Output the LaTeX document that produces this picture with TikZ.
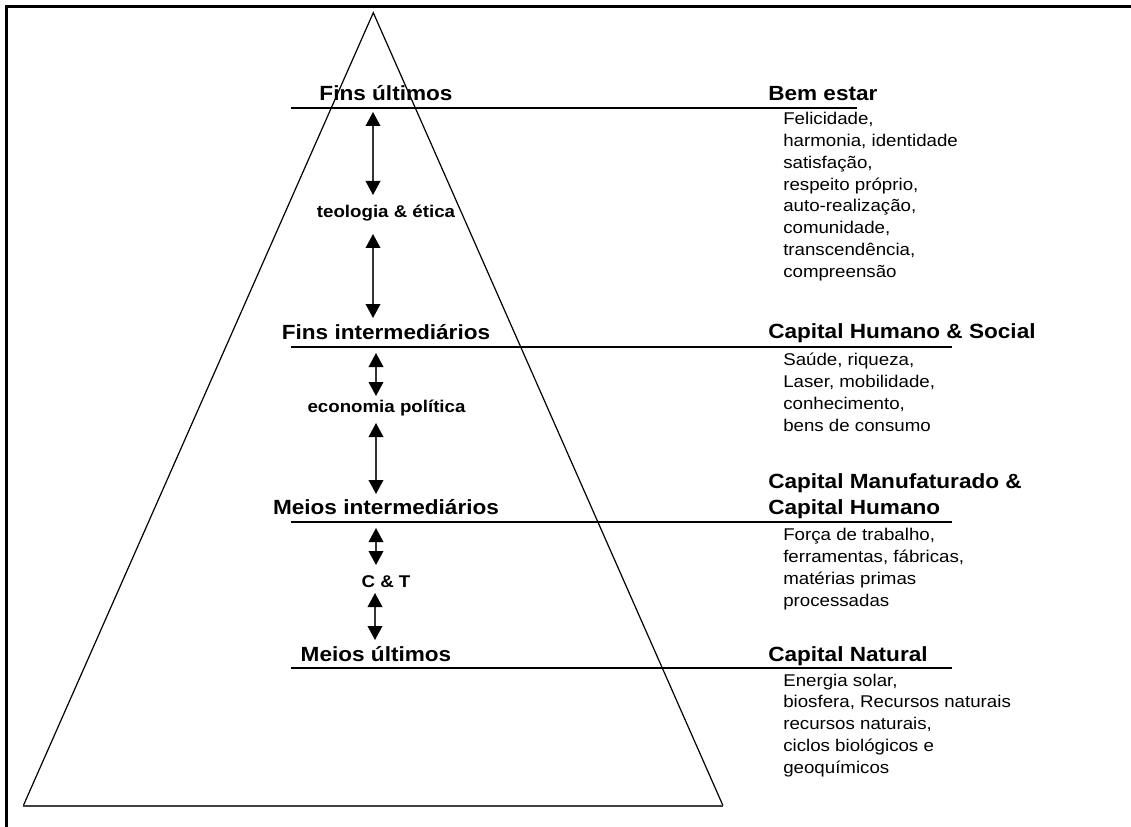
\documentclass[tikz,border=0pt]{standalone}
\usepackage{fontspec}
\setmainfont{Liberation Sans}[FakeStretch=1.1]
\usetikzlibrary{arrows.meta}
\begin{document}
\begin{tikzpicture}[x=0.75pt,y=-0.75pt,
 lvl/.style={anchor=base, font=\fontsize{15.4}{18}\selectfont\bfseries, inner sep=0pt},
 disc/.style={anchor=base, font=\fontsize{12.75}{15}\selectfont\bfseries, inner sep=0pt},
 capt/.style={anchor=base west, font=\fontsize{15.4}{19.5}\selectfont\bfseries, inner sep=0pt, align=left},
 body/.style={anchor=base west, font=\fontsize{12.75}{16.3}\selectfont, inner sep=0pt, align=left},
 rule/.style={line width=1.5pt},
 frame/.style={line width=1.7pt},
 pyr/.style={line width=0.9pt},
 dbl/.style={{Triangle[length=10.5pt,width=11pt,black]}-{Triangle[length=10.5pt,width=11pt,black]}, line width=1.1pt, draw=black!80}
]
\useasboundingbox (0,0) rectangle (1131,827);
% frame
\coordinate (ftl) at (6.5,6.5);
\coordinate (ftr) at (1131,6.5);
\coordinate (fbl) at (6.5,827);
\draw[frame] (ftr) -- (ftl) -- (fbl);
% pyramid
\coordinate (apex) at (373.3,12.7);
\coordinate (bl) at (23.3,805.7);
\coordinate (br) at (723,805.7);
\draw[pyr] (bl) -- (apex) -- (br);
\draw[line width=1.4pt, draw=black!75] (bl) -- (br);
% level rules
\coordinate (r1a) at (291,108); \coordinate (r1b) at (857,108);
\coordinate (r2a) at (291,347); \coordinate (r2b) at (952,347);
\coordinate (r3a) at (291,522); \coordinate (r3b) at (952,522);
\coordinate (r4a) at (291,668); \coordinate (r4b) at (952,668);
\draw[rule] (r1a) -- (r1b);
\draw[rule] (r2a) -- (r2b);
\draw[rule] (r3a) -- (r3b);
\draw[rule] (r4a) -- (r4b);
% left labels
\node[lvl] (fu) at (386,101) {Fins últimos};
\node[disc] (te) at (386,218) {teologia \& ética};
\node[lvl] (fi) at (386,339) {Fins intermediários};
\node[disc] (ep) at (386.5,412) {economia política};
\node[lvl] (mi) at (386,514) {Meios intermediários};
\node[disc] (ct) at (386,587) {C \& T};
\node[lvl] (mu) at (376,661) {Meios últimos};
% arrows
\coordinate (a1t) at (373,112); \coordinate (a1b) at (373,195);
\coordinate (a2t) at (373,234); \coordinate (a2b) at (373,318);
\coordinate (a3t) at (376,353); \coordinate (a3b) at (376,396);
\coordinate (a4t) at (376,423); \coordinate (a4b) at (376,494);
\coordinate (a5t) at (376,528); \coordinate (a5b) at (376,565);
\coordinate (a6t) at (375,593); \coordinate (a6b) at (375,640);
\draw[dbl] (a1t) -- (a1b);
\draw[dbl] (a2t) -- (a2b);
\draw[dbl] (a3t) -- (a3b);
\draw[dbl] (a4t) -- (a4b);
\draw[dbl] (a5t) -- (a5b);
\draw[dbl] (a6t) -- (a6b);
% right headings (multi-line nodes: base = last line's baseline)
\node[capt] (h1) at (768,101) {Bem estar};
\node[capt] (h2) at (768,338) {Capital Humano \& Social};
\node[capt] (h3) at (768,514) {Capital Manufaturado \&\\Capital Humano};
\node[capt] (h4) at (768,661) {Capital Natural};
% right bodies
\node[body] (b1) at (783,277) {Felicidade,\\harmonia, identidade\\satisfação,\\respeito próprio,\\auto-realização,\\comunidade,\\transcendência,\\compreensão};
\node[body] (b2) at (783,431) {Saúde, riqueza,\\Laser, mobilidade,\\conhecimento,\\bens de consumo};
\node[body] (b3) at (783,606) {Força de trabalho,\\ferramentas, fábricas,\\matérias primas\\processadas};
\node[body] (b4) at (783,773) {Energia solar,\\biosfera, Recursos naturais\\recursos naturais,\\ciclos biológicos e\\geoquímicos};
\end{tikzpicture}
\end{document}
